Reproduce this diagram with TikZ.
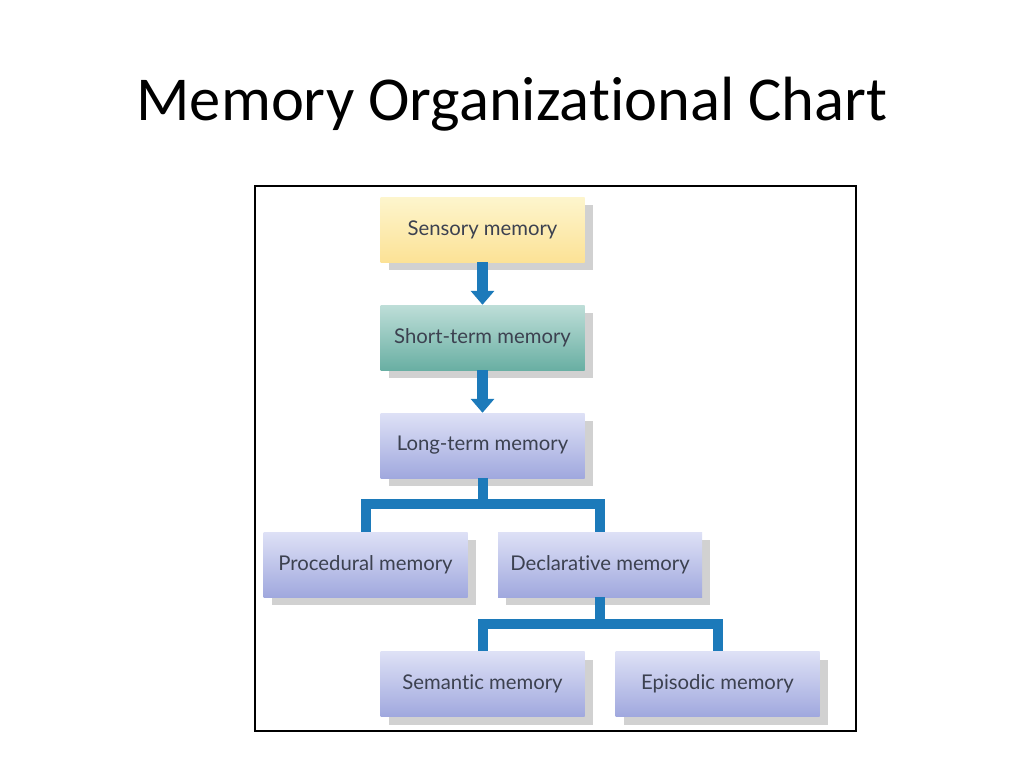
\documentclass[tikz,border=0pt]{standalone}
\usepackage{fontspec}
\setmainfont{Carlito}[Ligatures=NoCommon]
\newfontfamily\boxfont{Lato}[Ligatures=NoCommon]
\usepackage{tikz}
\usetikzlibrary{arrows.meta,calc,shadows}
\definecolor{connblue}{RGB}{28,122,186}
\definecolor{boxtext}{RGB}{60,65,80}
\tikzset{
  membox/.style={rectangle, minimum width=204pt, minimum height=65pt, inner sep=0pt,
    font=\boxfont\fontsize{20.3}{22}\selectfont, text=boxtext,
    drop shadow={shadow xshift=8pt, shadow yshift=-8pt, fill=black!18, opacity=1}},
  sensbox/.style={membox, top color={rgb,255:red,253;green,245;blue,205}, bottom color={rgb,255:red,252;green,226;blue,150}},
  shortbox/.style={membox, top color={rgb,255:red,190;green,222;blue,216}, bottom color={rgb,255:red,105;green,175;blue,163}},
  longbox/.style={membox, top color={rgb,255:red,222;green,225;blue,246}, bottom color={rgb,255:red,160;green,168;blue,222}},
  flowarrow/.style={connblue, line width=11pt, -{Triangle[width=23pt,length=14pt]}},
  conn/.style={connblue, line width=10pt, line join=miter}
}
\begin{document}
\begin{tikzpicture}[x=1pt,y=-1pt]
\useasboundingbox[fill=white] (0,0) rectangle (1024,768);
\node[anchor=base, font=\fontsize{62.5}{70}\selectfont] (title) at (512,120) {Memory Organizational Chart};
\draw[line width=1.5pt] (255,186) rectangle (856,731);

\node[sensbox] (sens) at (482.5,229.5) {Sensory memory};
\node[shortbox] (short) at (482.5,337.5) {Short-term memory};
\node[longbox] (long) at (482.5,445.5) {Long-term memory};
\node[longbox] (proc) at (365.5,564.5) {Procedural memory};
\node[longbox] (decl) at (600,564.5) {Declarative memory};
\node[longbox] (sem) at (482.5,684) {Semantic memory};
\node[longbox] (epi) at (717.5,684) {Episodic memory};

\draw[flowarrow] (sens.south) -- (short.north);
\draw[flowarrow] (short.south) -- (long.north);

\coordinate (longj) at ($(long.south)+(0,26)$);
\draw[conn] (long.south) -- (longj) -| (proc.north);
\draw[conn] (longj) -| (decl.north);
\coordinate (declj) at ($(decl.south)+(0,27)$);
\draw[conn] (decl.south) -- (declj) -| (sem.north);
\draw[conn] (declj) -| (epi.north);
\end{tikzpicture}
\end{document}
